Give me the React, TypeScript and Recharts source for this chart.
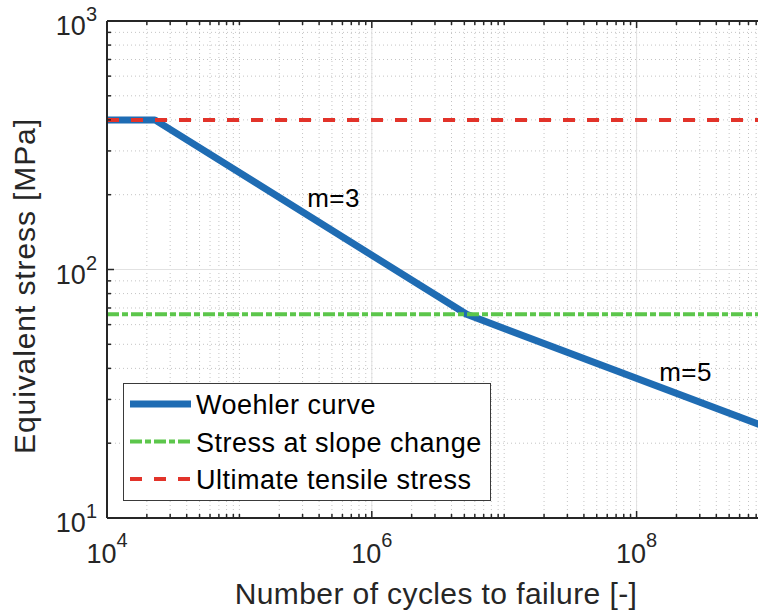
import { ComposedChart, Line, XAxis, YAxis, CartesianGrid, ReferenceLine, ReferenceDot, Legend, Label } from 'recharts';

// Woehler (S-N) curve
const woehlerCycles = [1e4, 2.3e4, 5.2e6, 1e9];
const woehlerStress = [400, 400, 66, 23];
const slopeChangeStress = 66;
const ultimateStress = 400;

const xRange = [1e4, 1e9];
const yRange = [10, 1000];
const xLabeledTicks = [1e4, 1e6, 1e8];
const xDecades = [1e4, 1e5, 1e6, 1e7, 1e8, 1e9];
const yLabeledTicks = [10, 100, 1000];
const yDecades = [10, 100, 1000];

const annotations = [
  { n: 3.25e5, s: 178, text: 'm=3' },
  { n: 1.48e8, s: 35.5, text: 'm=5' },
];

const series = [
  { key: 'woehler', name: 'Woehler curve', color: '#1F6CB3', width: 7, dash: undefined },
  { key: 'slope', name: 'Stress at slope change', color: '#5CC64B', width: 4, dash: '12 3 6 3' },
  { key: 'uts', name: 'Ultimate tensile stress', color: '#E2332A', width: 4, dash: '12 12' },
];

// all tick positions (decades + 2..9 minors) for tick marks and dotted grid
const withMinors = (decades: number[]) => {
  const out: number[] = [];
  decades.forEach((d, i) => {
    out.push(d);
    if (i < decades.length - 1) for (let k = 2; k <= 9; k++) out.push(d * k);
  });
  return out;
};
const xTicks = withMinors(xDecades);
const yTicks = withMinors(yDecades);

const woehlerData = woehlerCycles.map((n, i) => ({ n, s: woehlerStress[i] }));
const slopeData = xRange.map(n => ({ n, s: slopeChangeStress }));
const utsData = xRange.map(n => ({ n, s: ultimateStress }));

const FONT = "'Liberation Sans', Arial, Helvetica, sans-serif";
const AXIS = '#262626';

const isMajor = (v: number, list: number[]) => list.some(t => Math.abs(t - v) / t < 1e-9);
const expOf = (v: number) => Math.round(Math.log10(v));

function BottomTick(props: any) {
  const { x, y, payload } = props;
  const v = payload.value;
  const major = isMajor(v, xLabeledTicks);
  return (
    <g>
      <line x1={x} x2={x} y1={y} y2={y - (major ? 7 : 4)} stroke={AXIS} strokeWidth={1.5} />
      {major && (
        <text x={x} y={y + 45} textAnchor="middle" fontFamily={FONT} fontSize={27} fill={AXIS}>
          10<tspan dy={-16} fontSize={20}>{expOf(v)}</tspan>
        </text>
      )}
    </g>
  );
}

function TopTick(props: any) {
  const { x, y, payload } = props;
  const major = isMajor(payload.value, xLabeledTicks);
  return <line x1={x} x2={x} y1={y} y2={y + (major ? 7 : 4)} stroke={AXIS} strokeWidth={1.5} />;
}

function LeftTick(props: any) {
  const { x, y, payload } = props;
  const v = payload.value;
  const major = isMajor(v, yLabeledTicks);
  return (
    <g>
      <line x1={x} x2={x + (major ? 7 : 4)} y1={y} y2={y} stroke={AXIS} strokeWidth={1.5} />
      {major && (
        <text x={x - 10} y={y + 14} textAnchor="end" fontFamily={FONT} fontSize={27} fill={AXIS}>
          10<tspan dy={-14} fontSize={20}>{expOf(v)}</tspan>
        </text>
      )}
    </g>
  );
}

function LegendBox() {
  return (
    <svg width={368} height={118} style={{ display: 'block' }}>
      <rect x={0.5} y={0.5} width={367} height={117} fill="#fff" stroke="#3a3a3a" strokeWidth={1} />
      {series.map((s, i) => {
        const cy = 21 + i * 37.5;
        return (
          <g key={s.key}>
            <line x1={7} x2={68} y1={cy} y2={cy} stroke={s.color} strokeWidth={s.width} strokeDasharray={s.dash} />
            <text x={73} y={cy + 10} fontFamily={FONT} fontSize={27} letterSpacing={0.5} fill="#000">{s.name}</text>
          </g>
        );
      })}
    </svg>
  );
}

export default function App() {
  return (
    <div style={{ position: 'absolute', left: 0, top: 0, width: 758, height: 615, overflow: 'hidden', background: '#fff' }}>
      <ComposedChart width={770} height={615} margin={{ top: 0, right: 1, bottom: 0, left: 0 }}>
        <CartesianGrid stroke="#c4c4c4" strokeDasharray="1 3" strokeWidth={1} />
        <XAxis
          dataKey="n" type="number" scale="log" domain={xRange} allowDataOverflow
          ticks={xTicks} interval={0} tickSize={0} tickMargin={0} tick={<BottomTick />}
          height={97} axisLine={{ stroke: AXIS, strokeWidth: 2 }}
        >
          <Label
            content={({ viewBox }: any) => (
              <text x={viewBox.x + viewBox.width / 2 - 2} y={viewBox.y + 86} textAnchor="middle"
                fontFamily={FONT} fontSize={30} letterSpacing={0.4} fill={AXIS}>
                Number of cycles to failure [-]
              </text>
            )}
          />
        </XAxis>
        <XAxis
          xAxisId="top" orientation="top" dataKey="n" type="number" scale="log" domain={xRange} allowDataOverflow
          ticks={xTicks} interval={0} tickSize={0} tickMargin={0} tick={<TopTick />}
          height={21} axisLine={{ stroke: AXIS, strokeWidth: 2 }}
        />
        <YAxis
          type="number" scale="log" domain={yRange} allowDataOverflow
          ticks={yTicks} interval={0} tickSize={0} tickMargin={0} tick={<LeftTick />}
          width={107} axisLine={{ stroke: AXIS, strokeWidth: 2 }}
        >
          <Label
            content={({ viewBox }: any) => (
              <text x={35} y={viewBox.y + 265} textAnchor="middle" transform={`rotate(-90, 35, ${viewBox.y + 265})`}
                fontFamily={FONT} fontSize={30} letterSpacing={0.9} fill={AXIS}>
                Equivalent stress [MPa]
              </text>
            )}
          />
        </YAxis>
        {[1e6, 1e8].map(v => (
          <ReferenceLine key={`gx${v}`} x={v} stroke="#e2e2e2" strokeWidth={1} />
        ))}
        <ReferenceLine y={100} stroke="#e2e2e2" strokeWidth={1} />

        <Line data={woehlerData} dataKey="s" name={series[0].name} stroke={series[0].color} strokeWidth={series[0].width}
          strokeLinejoin="round" dot={false} activeDot={false} isAnimationActive={false} />
        <Line data={slopeData} dataKey="s" name={series[1].name} stroke={series[1].color} strokeWidth={series[1].width}
          strokeDasharray={series[1].dash} dot={false} activeDot={false} isAnimationActive={false} />
        <Line data={utsData} dataKey="s" name={series[2].name} stroke={series[2].color} strokeWidth={series[2].width}
          strokeDasharray={series[2].dash} dot={false} activeDot={false} isAnimationActive={false} />

        {annotations.map(a => (
          <ReferenceDot key={a.text} x={a.n} y={a.s} r={0} stroke="none" fill="none"
            label={({ viewBox }: any) => (
              <text x={viewBox.x} y={viewBox.y} fontFamily={FONT} fontSize={26} letterSpacing={0.5} fill="#000">{a.text}</text>
            )}
          />
        ))}

        <Legend layout="vertical" align="center" verticalAlign="middle" content={() => <LegendBox />}
          wrapperStyle={{ left: 123, top: 383, width: 368, height: 118 }} />
      </ComposedChart>
    </div>
  );
}
